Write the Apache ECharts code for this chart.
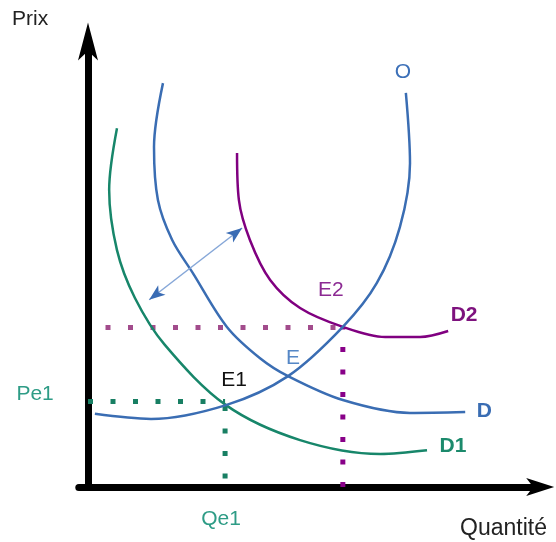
<!DOCTYPE html>
<html><head><meta charset="utf-8">
<script src="https://cdn.jsdelivr.net/npm/echarts@6/dist/echarts.min.js"></script>
<style>html,body{margin:0;padding:0;background:#fff}#c{width:556px;height:542px}</style>
</head><body><div id="c"></div>
<script>
// Equilibrium points (quantity, price)
const E1 = [29.8, 18.6];
const E  = [43.5, 24.1];
const E2 = [55.4, 34.7];
// Supply curve O
const supplyO = [[1.5,15.9],[13.7,14.8],[30.0,17.8],[43.5,24.1],[55.4,34.8],[62.8,44.35],[67.8,56.5],[70.0,70.4],[69.1,85.7]];
// Demand curves
const demandD1 = [[6.3,78.0],[4.6,64.6],[6.3,51.5],[10.2,41.1],[16.7,30.9],[30.0,17.8],[46.1,10.2],[63.5,7.2],[73.7,8.0]];
const demandD  = [[16.3,87.8],[14.35,73.9],[15.2,62.4],[18.3,53.7],[22.8,46.5],[30.2,34.8],[37.4,28.0],[43.5,24.1],[55.4,18.9],[70.0,16.1],[82.0,16.3]];
const demandD2 = [[32.4,72.6],[32.8,62.4],[35.2,53.7],[39.6,45.0],[46.1,38.9],[55.4,34.8],[64.6,32.6],[72.2,32.6],[78.3,33.9]];
// Shift arrow
const shiftArrow = [[13.3,40.7],[33.5,56.3]];
// Tick labels
const xTickLabel = 'Qe1';
const yTickLabel = 'Pe1';

const blue = '#3a6db3', green = '#17866a', purple = '#800080';
const FONT = 'Liberation Sans, Arial, sans-serif';

function curve(data, color) {
  return { type: 'line', data: data, smooth: 0.33, symbol: 'none', showSymbol: false, silent: true,
    lineStyle: { color: color, width: 2.5 }, z: 3 };
}
function dotted(data, color, offset) {
  return { type: 'line', data: data, symbol: 'none', showSymbol: false, silent: true,
    lineStyle: { color: color, width: 5, type: [5, 17.5], dashOffset: offset || 0, cap: 'butt' }, z: 2 };
}
function tag(coord, text, color, bold, pos, offset, dist) {
  return { coord: coord, symbol: 'circle', symbolSize: 1, itemStyle: { color: 'rgba(0,0,0,0)' },
    label: { show: true, formatter: text, position: pos, distance: dist || 0, offset: offset,
      color: color, fontSize: 21, fontWeight: bold ? 'bold' : 'normal', fontFamily: FONT } };
}
const last = a => a[a.length - 1];

const chart = echarts.init(document.getElementById('c'));
chart.setOption({
  animation: false,
  backgroundColor: '#fff',
  title: [
    { text: 'Prix', left: 12, top: 9, padding: 0, textStyle: { fontSize: 21, fontWeight: 'normal', color: '#222', fontFamily: FONT } },
    { text: 'Quantité', left: 460, top: 517, padding: 0, textStyle: { fontSize: 23, fontWeight: 'normal', color: '#222', fontFamily: FONT } }
  ],
  grid: { left: 78.8, right: 21.8, top: 45.4, bottom: 55 },
  xAxis: { type: 'value', min: -2, max: 97,
    axisLine: { show: true, onZero: true, symbol: ['none', 'arrow'], symbolSize: [13.5, 28], symbolOffset: [0, 20], lineStyle: { color: '#000', width: 7 } },
    axisTick: { show: false }, splitLine: { show: false },
    axisLabel: { show: true, customValues: [E1[0]], formatter: xTickLabel, margin: 22, padding: [0, 8, 0, 0], color: '#2e9c86', fontSize: 21, fontFamily: FONT } },
  yAxis: { type: 'value', min: 0, max: 96,
    axisLine: { show: true, onZero: true, symbol: ['none', 'arrow'], symbolSize: [15, 38], symbolOffset: [0, 23], lineStyle: { color: '#000', width: 7 } },
    axisTick: { show: false }, splitLine: { show: false },
    axisLabel: { show: true, customValues: [E1[1]], formatter: yTickLabel, margin: 25, verticalAlign: 'bottom', lineHeight: 14, color: '#2e9c86', fontSize: 21, fontFamily: FONT } },
  series: [
    dotted([[0, E1[1]], E1], '#187f63'),
    dotted([E1, [E1[0], 0]], '#187f63', 17.9),
    dotted([[0, E2[1]], E2], '#a24c8c', 5),
    dotted([[E2[0], 0], E2], '#880088'),
    Object.assign(curve(demandD1, green), { markPoint: { silent: true, data: [ tag(last(demandD1), 'D1', '#1c8a6c', true, 'right', [0, -4], 12) ] } }),
    Object.assign(curve(demandD, blue), { markPoint: { silent: true, data: [ tag(last(demandD), 'D', blue, true, 'right', [0, -1], 11) ] } }),
    Object.assign(curve(demandD2, purple), { markPoint: { silent: true, data: [ tag(last(demandD2), 'D2', '#7e127e', true, 'right', [0, -16], 2) ] } }),
    Object.assign(curve(supplyO, blue), { markPoint: { silent: true, data: [
      tag(last(supplyO), 'O', '#3c70b8', false, 'inside', [-3, -21]),
      tag(E1, 'E1', '#111', false, 'inside', [9, -21]),
      tag(E, 'E', '#5587c6', false, 'inside', [5, -18]),
      tag(E2, 'E2', '#8c2a93', false, 'inside', [-12, -37])
    ] } }),
    { type: 'line', data: [], silent: true, z: 4,
      markLine: { silent: true, animation: false, label: { show: false }, symbol: ['none', 'none'],
        lineStyle: { color: '#86a7d8', width: 1.5, type: 'solid' },
        data: [[{ coord: shiftArrow[0] }, { coord: shiftArrow[1] }]] } },
    { type: 'line', data: [], silent: true, z: 5,
      markLine: { silent: true, animation: false, label: { show: false }, symbol: ['arrow', 'arrow'], symbolSize: [9, 16],
        lineStyle: { color: '#3a6cb4', width: 0, type: 'solid' },
        data: [[{ coord: shiftArrow[0] }, { coord: shiftArrow[1] }]] } }
  ]
});
</script></body></html>
